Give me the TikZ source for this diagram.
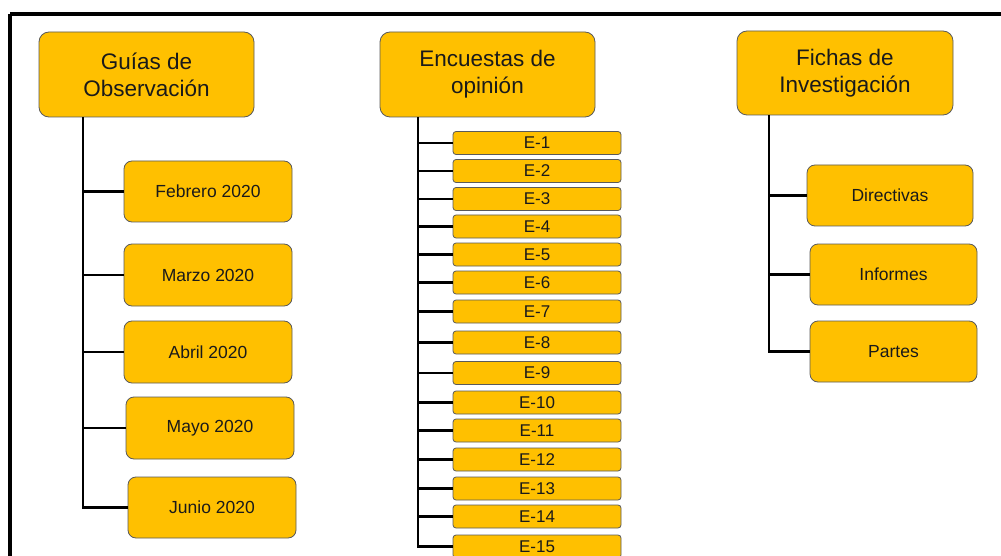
\documentclass[tikz,border=0pt]{standalone}
\usepackage{fontspec}
\setmainfont{Liberation Sans}
\definecolor{boxfill}{HTML}{FFC000}
\definecolor{boxline}{HTML}{5A5A5A}
\definecolor{txt}{HTML}{1A1A1A}
\begin{document}
\begin{tikzpicture}[x=1pt,y=-1pt,
  head/.style={draw=boxline,line width=0.8pt,fill=boxfill,rounded corners=10pt,align=center,inner sep=0pt,font=\fontsize{22.5}{27}\selectfont,text=txt},
  kid/.style={draw=boxline,line width=0.8pt,fill=boxfill,rounded corners=8pt,inner sep=0pt,font=\fontsize{17.5}{20}\selectfont,text=txt},
  ebox/.style={draw=boxline,line width=0.8pt,fill=boxfill,rounded corners=3pt,inner sep=0pt,minimum width=168pt,minimum height=23pt,font=\fontsize{17}{20}\selectfont,text=txt},
  link/.style={draw=black,line width=2.4pt}]
\useasboundingbox (0,0) rectangle (1001,556);
\clip (0,0) rectangle (1001,556);
\fill[white] (0,0) rectangle (1001,556);
\draw[line width=3.5pt] (10,14) -- (10,600);
\draw[line width=3.5pt] (10,14) -- (1100,14);
% headers
\node[head,minimum width=215pt,minimum height=85pt] (g) at (146.5,74.5) {Guías de\\Observación};
\node[head,minimum width=215pt,minimum height=85pt] (e) at (487.5,74.5) {Encuestas de\\opinión};
\node[head,minimum width=216pt,minimum height=84pt] (f) at (845,73) {Fichas de\\Investigación};
% guias children
\node[kid,minimum width=168pt,minimum height=61pt] (feb) at (208,191.5) {Febrero 2020};
\node[kid,minimum width=168pt,minimum height=62pt] (mar) at (208,275) {Marzo 2020};
\node[kid,minimum width=168pt,minimum height=62pt] (abr) at (208,352) {Abril 2020};
\node[kid,minimum width=168pt,minimum height=62pt] (may) at (210,428) {Mayo 2020};
\node[kid,minimum width=168pt,minimum height=61pt] (jun) at (212,507.5) {Junio 2020};
% fichas children
\node[kid,minimum width=166pt,minimum height=61pt] (dir) at (890,195.5) {Directivas};
\node[kid,minimum width=167pt,minimum height=61pt] (inf) at (893.5,274.5) {Informes};
\node[kid,minimum width=167pt,minimum height=61pt] (par) at (893.5,351.5) {Partes};
% encuestas children
\node[ebox] (e1) at (537,143) {E-1};
\node[ebox] (e2) at (537,171) {E-2};
\node[ebox] (e3) at (537,199) {E-3};
\node[ebox] (e4) at (537,226.5) {E-4};
\node[ebox] (e5) at (537,254.5) {E-5};
\node[ebox] (e6) at (537,282.5) {E-6};
\node[ebox] (e7) at (537,311.5) {E-7};
\node[ebox] (e8) at (537,342.5) {E-8};
\node[ebox] (e9) at (537,373) {E-9};
\node[ebox] (e10) at (537,402.5) {E-10};
\node[ebox] (e11) at (537,430.5) {E-11};
\node[ebox] (e12) at (537,459.5) {E-12};
\node[ebox] (e13) at (537,488.5) {E-13};
\node[ebox] (e14) at (537,516.5) {E-14};
\node[ebox] (e15) at (537,546.5) {E-15};
% connectors
\coordinate (gt) at (83,117);
\coordinate (et) at (418,117);
\coordinate (ft) at (769,115);
\draw[link] (gt) |- (jun.west);
\foreach \c in {feb,mar,abr,may} \draw[link] (gt |- \c.west) -- (\c.west);
\draw[link] (et) |- (e15.west);
\foreach \c in {e1,e2,e3,e4,e5,e6,e7,e8,e9,e10,e11,e12,e13,e14} \draw[link] (et |- \c.west) -- (\c.west);
\draw[link] (ft) |- (par.west);
\foreach \c in {dir,inf} \draw[link] (ft |- \c.west) -- (\c.west);
\end{tikzpicture}
\end{document}
